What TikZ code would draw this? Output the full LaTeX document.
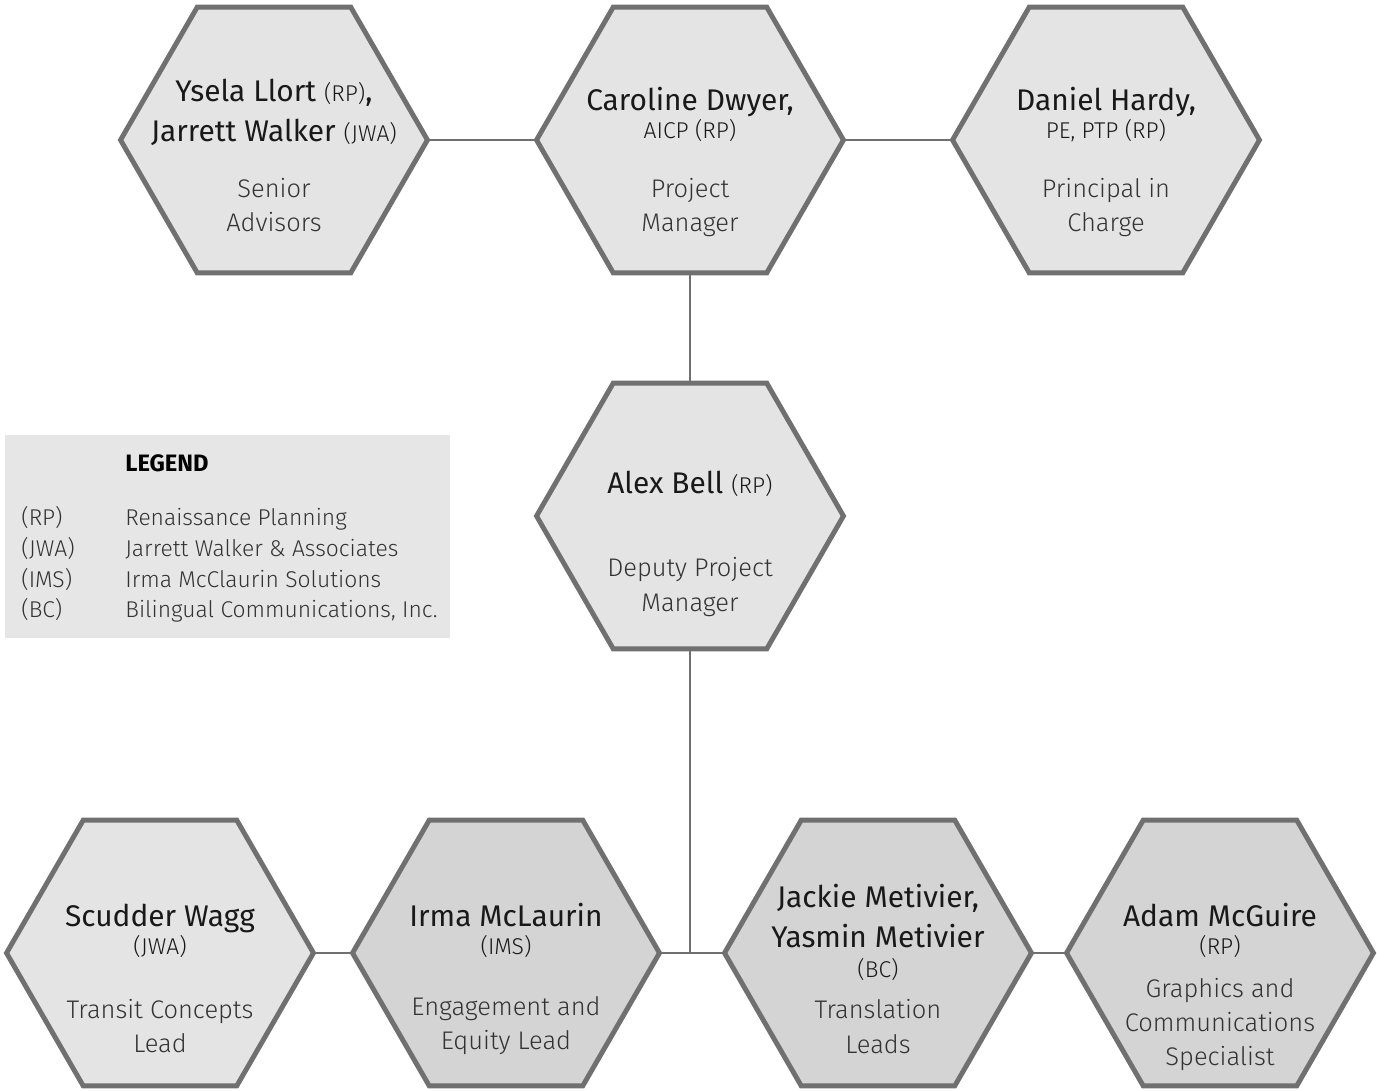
\documentclass[tikz,border=0pt]{standalone}
\usepackage{fontspec}
\setmainfont{Fira Sans}
\newfontfamily\lightface{Fira Sans Light}
\usetikzlibrary{shapes.geometric,positioning}
\definecolor{hexline}{HTML}{707070}
\definecolor{hexfill}{HTML}{E4E4E4}
\definecolor{hexdark}{HTML}{D4D4D4}
\definecolor{legfill}{HTML}{E6E6E6}
\definecolor{roletxt}{HTML}{333333}
\newcommand{\orgtag}[1]{{\lightface\fontsize{13}{15}\selectfont #1}}

\tikzset{
	hexa/.style={regular polygon, regular polygon sides=6, minimum size=6.14cm, inner sep=0pt, draw=hexline, line width=2.8pt, fill=hexfill},
	hexb/.style={hexa, fill=hexdark},
	who/.style={anchor=base, inner sep=0pt, font=\fontsize{17}{20}\selectfont, text=black!90},
	firm/.style={anchor=base, inner sep=0pt, font=\lightface\fontsize{13}{15}\selectfont, text=black!90},
	role/.style={anchor=base, inner sep=0pt, font=\lightface\fontsize{14.5}{16}\selectfont, text=roletxt},
	legtxt/.style={anchor=base west, inner sep=0pt, font=\lightface\fontsize{13}{15}\selectfont, text=roletxt},
	link/.style={draw=hexline, line width=1.7pt},
}

\begin{document}
\begin{tikzpicture}[x=0.02cm, y=-0.02cm]
	%%%%% START %%%%%
	\useasboundingbox (0, 0) rectangle (1377, 1091);

	% top row
	\node[hexa] (sadv) at (274, 140) {};
	\node[hexa] (cdwyer) at (690, 140) {};
	\node[hexa] (dhardy) at (1106, 140) {};

	% deputy
	\node[hexa] (abell) at (690, 516) {};

	% bottom row
	\node[hexa] (swagg) at (160, 953) {};
	\node[hexb] (imcl) at (506, 953) {};
	\node[hexb] (jmet) at (878, 953) {};
	\node[hexb] (amcg) at (1220, 953) {};

	% connectors
	\draw[link] (sadv.east) -- (cdwyer.west);
	\draw[link] (cdwyer.east) -- (dhardy.west);
	\draw[link] (cdwyer.south) -- (abell.north);
	\draw[link] (abell.south) -- (abell.south |- jmet.west);
	\draw[link] (swagg.east) -- (imcl.west);
	\draw[link] (imcl.east) -- (jmet.west);
	\draw[link] (jmet.east) -- (amcg.west);

	% texts
	\node[who] (sadvA) at (274, 102) {Ysela Llort \orgtag{(RP)},};
	\node[who] (sadvB) at (274, 142) {Jarrett Walker \orgtag{(JWA)}};
	\node[role] (sadvC) at (274, 198) {Senior};
	\node[role] (sadvD) at (274, 232) {Advisors};

	\node[who] (cdwyerA) at (690, 111) {Caroline Dwyer,};
	\node[firm] (cdwyerB) at (690, 139) {AICP (RP)};
	\node[role] (cdwyerC) at (690, 198) {Project};
	\node[role] (cdwyerD) at (690, 232) {Manager};

	\node[who] (dhardyA) at (1106, 111) {Daniel Hardy,};
	\node[firm] (dhardyB) at (1106, 139) {PE, PTP (RP)};
	\node[role] (dhardyC) at (1106, 198) {Principal in};
	\node[role] (dhardyD) at (1106, 232) {Charge};

	\node[who] (abellA) at (690, 493) {Alex Bell \orgtag{(RP)}};
	\node[role] (abellB) at (690, 576) {Deputy Project};
	\node[role] (abellC) at (690, 611) {Manager};

	\node[who] (swaggA) at (160, 926) {Scudder Wagg};
	\node[firm] (swaggB) at (160, 954) {(JWA)};
	\node[role] (swaggC) at (160, 1018) {Transit Concepts};
	\node[role] (swaggD) at (160, 1052) {Lead};

	\node[who] (imclA) at (506, 926) {Irma McLaurin};
	\node[firm] (imclB) at (506, 954) {(IMS)};
	\node[role] (imclC) at (506, 1015) {Engagement and};
	\node[role] (imclD) at (506, 1049) {Equity Lead};

	\node[who] (jmetA) at (878, 907) {Jackie Metivier,};
	\node[who] (jmetB) at (878, 947) {Yasmin Metivier};
	\node[firm] (jmetC) at (878, 977) {(BC)};
	\node[role] (jmetD) at (878, 1018) {Translation};
	\node[role] (jmetE) at (878, 1053) {Leads};

	\node[who] (amcgA) at (1220, 926) {Adam McGuire};
	\node[firm] (amcgB) at (1220, 954) {(RP)};
	\node[role] (amcgC) at (1220, 997) {Graphics and};
	\node[role] (amcgD) at (1220, 1031) {Communications};
	\node[role] (amcgE) at (1220, 1065) {Specialist};

	% legend
	\fill[legfill] (5, 435) rectangle (450, 638);
	\node[legtxt, text=black, font=\fontsize{13.5}{15}\selectfont\bfseries] (legT) at (125, 471) {LEGEND};
	\node[legtxt] (legRP) at (21, 525) {(RP)};
	\node[legtxt] (legJWA) at (21, 556) {(JWA)};
	\node[legtxt] (legIMS) at (21, 587) {(IMS)};
	\node[legtxt] (legBC) at (21, 617) {(BC)};
	\node[legtxt] (legRPt) at (125, 525) {Renaissance Planning};
	\node[legtxt] (legJWAt) at (125, 556) {Jarrett Walker \& Associates};
	\node[legtxt] (legIMSt) at (125, 587) {Irma McClaurin Solutions};
	\node[legtxt] (legBCt) at (125, 617) {Bilingual Communications, Inc.};
	%%%%% END %%%%%
\end{tikzpicture}
\end{document}
